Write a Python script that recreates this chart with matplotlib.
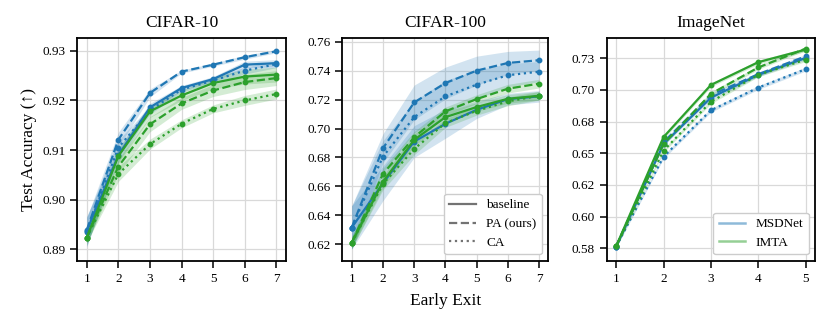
import matplotlib
matplotlib.use("Agg")
import matplotlib.pyplot as plt
import numpy as np
from matplotlib.lines import Line2D

plt.rcParams['font.family'] = ['Liberation Serif', 'DejaVu Serif']
plt.rcParams['mathtext.fontset'] = 'dejavuserif'

# ---- data (mean accuracy, approx. std) ----
titles = ["CIFAR-10", "CIFAR-100", "ImageNet"]
exits_cifar = [1, 2, 3, 4, 5, 6, 7]
exits_imnet = [1, 2, 3, 4, 5]

c10_msd_base = [0.8937, 0.9090, 0.9186, 0.9225, 0.9243, 0.9272, 0.9275]
c10_msd_pa = [0.8939, 0.9121, 0.9215, 0.9258, 0.9272, 0.9287, 0.9299]
c10_msd_ca = [0.8935, 0.9105, 0.9180, 0.9222, 0.9240, 0.9260, 0.9273]
c10_imta_base = [0.8924, 0.9088, 0.9178, 0.9210, 0.9235, 0.9248, 0.9252]
c10_imta_pa = [0.8924, 0.9067, 0.9152, 0.9194, 0.9220, 0.9237, 0.9245]
c10_imta_ca = [0.8924, 0.9052, 0.9112, 0.9153, 0.9183, 0.9200, 0.9213]
c10_msd_base_sd = [0.0030, 0.0015, 0.0008, 0.0005, 0.0005, 0.0007, 0.0007]
c10_msd_pa_sd = [0.0025, 0.0015, 0.0008, 0.0003, 0.0003, 0.0004, 0.0003]
c10_msd_ca_sd = [0.0030, 0.0015, 0.0008, 0.0005, 0.0005, 0.0007, 0.0007]
c10_imta_base_sd = [0.0015, 0.0015, 0.0012, 0.0010, 0.0012, 0.0015, 0.0015]
c10_imta_pa_sd = [0.0010, 0.0015, 0.0015, 0.0012, 0.0012, 0.0015, 0.0015]
c10_imta_ca_sd = [0.0010, 0.0015, 0.0010, 0.0008, 0.0008, 0.0010, 0.0010]

c100_msd_base = [0.6315, 0.6621, 0.6910, 0.7033, 0.7130, 0.7204, 0.7223]
c100_msd_pa = [0.6315, 0.6864, 0.7181, 0.7315, 0.7401, 0.7454, 0.7473]
c100_msd_ca = [0.6315, 0.6806, 0.7079, 0.7223, 0.7304, 0.7369, 0.7394]
c100_imta_base = [0.6210, 0.6632, 0.6922, 0.7079, 0.7149, 0.7206, 0.7227]
c100_imta_pa = [0.6210, 0.6686, 0.6940, 0.7119, 0.7204, 0.7276, 0.7311]
c100_imta_ca = [0.6210, 0.6616, 0.6859, 0.7038, 0.7123, 0.7188, 0.7227]
c100_msd_base_sd = [0.0150, 0.0120, 0.0110, 0.0100, 0.0060, 0.0040, 0.0040]
c100_msd_pa_sd = [0.0150, 0.0100, 0.0120, 0.0110, 0.0100, 0.0080, 0.0070]
c100_msd_ca_sd = [0.0150, 0.0110, 0.0110, 0.0110, 0.0100, 0.0080, 0.0070]
c100_imta_base_sd = [0.0040, 0.0040, 0.0040, 0.0040, 0.0030, 0.0030, 0.0030]
c100_imta_pa_sd = [0.0040, 0.0040, 0.0040, 0.0030, 0.0030, 0.0030, 0.0030]
c100_imta_ca_sd = [0.0040, 0.0040, 0.0040, 0.0030, 0.0030, 0.0030, 0.0030]

im_msd_base = [0.5763, 0.6574, 0.6939, 0.7120, 0.7253]
im_msd_pa = [0.5763, 0.6588, 0.6960, 0.7125, 0.7266]
im_msd_ca = [0.5763, 0.6473, 0.6840, 0.7019, 0.7165]
im_imta_base = [0.5765, 0.6628, 0.7040, 0.7220, 0.7319]
im_imta_pa = [0.5765, 0.6574, 0.6970, 0.7178, 0.7327]
im_imta_ca = [0.5765, 0.6521, 0.6907, 0.7120, 0.7240]
im_msd_sd = [0.0010, 0.0015, 0.0015, 0.0015, 0.0015]
im_imta_sd = [0.0010, 0.0015, 0.0015, 0.0015, 0.0015]

im_ticks = [0.575, 0.600, 0.625, 0.650, 0.675, 0.700, 0.725]
im_ticklabels = ["0.58", "0.60", "0.62", "0.65", "0.68", "0.70", "0.73"]

BLUE = "tab:blue"
GREEN = "tab:green"

fig = plt.figure(figsize=(8.31, 3.29), dpi=100)
ax1 = fig.add_axes([0.093, 0.207, 0.251, 0.678])
ax2 = fig.add_axes([0.412, 0.207, 0.248, 0.678])
ax3 = fig.add_axes([0.730, 0.207, 0.251, 0.678])


def draw(ax, x, mean, sd, color, ls):
    mean = np.array(mean)
    sd = np.array(sd)
    ax.fill_between(x, mean - sd, mean + sd, color=color, alpha=0.2, lw=0)
    ax.plot(x, mean, color=color, ls=ls, lw=1.6, marker="o", ms=3.2)


styles = ["-", "--", ":"]

sets = [
    (ax1, exits_cifar,
     [c10_msd_base, c10_msd_pa, c10_msd_ca], [c10_msd_base_sd, c10_msd_pa_sd, c10_msd_ca_sd],
     [c10_imta_base, c10_imta_pa, c10_imta_ca], [c10_imta_base_sd, c10_imta_pa_sd, c10_imta_ca_sd]),
    (ax2, exits_cifar,
     [c100_msd_base, c100_msd_pa, c100_msd_ca], [c100_msd_base_sd, c100_msd_pa_sd, c100_msd_ca_sd],
     [c100_imta_base, c100_imta_pa, c100_imta_ca], [c100_imta_base_sd, c100_imta_pa_sd, c100_imta_ca_sd]),
    (ax3, exits_imnet,
     [im_msd_base, im_msd_pa, im_msd_ca], [im_msd_sd] * 3,
     [im_imta_base, im_imta_pa, im_imta_ca], [im_imta_sd] * 3),
]

for i, (ax, x, msd, msd_sd, imta, imta_sd) in enumerate(sets):
    for m, s, ls in zip(msd, msd_sd, styles):
        draw(ax, x, m, s, BLUE, ls)
    for m, s, ls in zip(imta, imta_sd, styles):
        draw(ax, x, m, s, GREEN, ls)
    ax.set_xticks(x)
    ax.set_title(titles[i], fontsize=12.5, pad=8)
    ax.grid(True, color="0.85", lw=0.9)
    ax.set_axisbelow(True)
    ax.tick_params(labelsize=9.5, width=1.1, length=5)
    for sp in ax.spines.values():
        sp.set_linewidth(1.3)

ax1.set_ylim(0.8877, 0.9326)
ax1.set_yticks([0.89, 0.90, 0.91, 0.92, 0.93])
ax2.set_ylim(0.6084, 0.7628)
ax2.set_yticks([0.62, 0.64, 0.66, 0.68, 0.70, 0.72, 0.74, 0.76])
ax3.set_ylim(0.565, 0.7412)
ax3.set_yticks(im_ticks)
ax3.set_yticklabels(im_ticklabels)

ax1.set_ylabel("Test Accuracy (↑)", fontsize=12.5)
ax2.set_xlabel("Early Exit", fontsize=12.5, labelpad=6)

ls_handles = [Line2D([], [], color="0.45", ls=ls, lw=1.6) for ls in styles]
ax2.legend(ls_handles, ["baseline", "PA (ours)", "CA"], loc="lower right",
           fontsize=9.5, framealpha=1, edgecolor="0.8")
m_handles = [Line2D([], [], color=BLUE, lw=1.8, alpha=0.5),
             Line2D([], [], color=GREEN, lw=1.8, alpha=0.5)]
ax3.legend(m_handles, ["MSDNet", "IMTA"], loc="lower right",
           fontsize=9.5, framealpha=1, edgecolor="0.8")

fig.savefig("out.png", dpi=100)
